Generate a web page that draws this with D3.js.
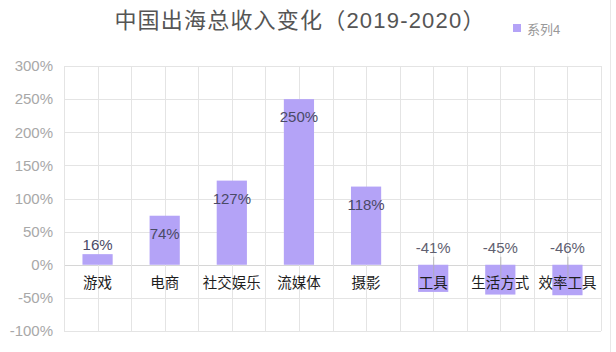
<!DOCTYPE html>
<html>
<head>
<meta charset="utf-8">
<script src="https://cdn.jsdelivr.net/npm/d3@7"></script>
<style>
  body { margin: 0; background: #fff; }
  text { font-family: "Liberation Sans", "Noto Sans CJK SC", sans-serif; }
</style>
</head>
<body>
<div id="display"></div>
<script>
let w = 616;
let h = 352;

const categories = ['游戏', '电商', '社交娱乐', '流媒体', '摄影', '工具', '生活方式', '效率工具'];
const values = [16, 74, 127, 250, 118, -41, -45, -46];
const yTicks = [-100, -50, 0, 50, 100, 150, 200, 250, 300];
const seriesName = '系列4';
const title = '中国出海总收入变化（2019-2020）';

const barColor = '#b4a3f7';

let viz = d3.select('#display')
            .append('svg')
                .attr('width', w)
                .attr('height', h)
                .style('background-color', '#fff');

let pLeft = 64, pRight = 601, pTop = 66, pBottom = 331;

let xScale = d3.scaleBand().domain(categories).range([pLeft, pRight]).paddingInner(0.55).paddingOuter(0.275);
let yScale = d3.scaleLinear().domain([-100, 300]).range([pBottom, pTop]);
let step = xScale.step();

// horizontal grid
viz.append('g')
    .selectAll('line')
    .data(yTicks)
    .join('line')
        .attr('x1', pLeft)
        .attr('x2', pRight)
        .attr('y1', (d) => Math.round(yScale(d)) + 0.5)
        .attr('y2', (d) => Math.round(yScale(d)) + 0.5)
        .attr('stroke', (d) => d === 0 ? '#d6d6d6' : '#e4e4e4')
        .attr('stroke-width', 1);

// vertical grid at band edges and centers
let vx = [];
categories.forEach((c, i) => {
    vx.push(pLeft + i * step);
    vx.push(pLeft + i * step + step / 2);
});
vx.push(pRight);
viz.append('g')
    .selectAll('line')
    .data(vx)
    .join('line')
        .attr('x1', (d) => Math.round(d) + 0.5)
        .attr('x2', (d) => Math.round(d) + 0.5)
        .attr('y1', pTop)
        .attr('y2', pBottom)
        .attr('stroke', '#e4e4e4');

// frame line on the right
viz.append('line')
    .attr('x1', 610.5).attr('x2', 610.5)
    .attr('y1', 0).attr('y2', h)
    .attr('stroke', '#e8e8e8');

// y axis labels
let yAxis = d3.axisLeft(yScale).tickValues(yTicks).tickSize(0).tickPadding(11).tickFormat((d) => d + '%');
viz.append('g')
    .attr('class', 'yaxis')
    .attr('transform', 'translate(' + pLeft + ',0)')
    .call(yAxis)
    .call((g) => g.select('.domain').remove())
    .selectAll('text')
        .attr('fill', '#a8a8a8')
        .style('font-size', '15px');

// bars
viz.append('g')
    .selectAll('rect')
    .data(values)
    .join('rect')
        .attr('x', (d, i) => xScale(categories[i]))
        .attr('width', xScale.bandwidth())
        .attr('y', (d) => yScale(Math.max(0, d)))
        .attr('height', (d) => Math.abs(yScale(d) - yScale(0)))
        .attr('fill', barColor);

// category labels on the zero line
viz.append('g')
    .selectAll('text')
    .data(categories)
    .join('text')
        .attr('x', (d) => xScale(d) + xScale.bandwidth() / 2)
        .attr('y', yScale(0) + 23)
        .attr('text-anchor', 'middle')
        .attr('fill', '#1e1e1e')
        .style('font-size', '14.5px')
        .text((d) => d);

// leader lines for negative values
viz.append('g')
    .selectAll('line')
    .data(values.filter((d) => d < 0))
    .join('line')
        .attr('x1', (d) => xScale(categories[values.indexOf(d)]) + xScale.bandwidth() / 2 + 0.5)
        .attr('x2', (d) => xScale(categories[values.indexOf(d)]) + xScale.bandwidth() / 2 + 0.5)
        .attr('y1', yScale(0) - 8)
        .attr('y2', (d) => yScale(d / 2))
        .attr('stroke', '#b0b0b0')
        .attr('stroke-width', 0.8);

// value labels
viz.append('g')
    .selectAll('text')
    .data(values)
    .join('text')
        .attr('x', (d, i) => xScale(categories[i]) + xScale.bandwidth() / 2)
        .attr('y', (d) => {
            if (d < 0) return yScale(0) - 12;
            if (d < 30) return yScale(d) - 4;
            return yScale(d) + 23;
        })
        .attr('text-anchor', 'middle')
        .attr('fill', (d) => d < 0 ? '#606070' : '#4a4a66')
        .style('font-size', '15px')
        .text((d) => d + '%');

// title
viz.append('text')
    .attr('x', 300)
    .attr('y', 28)
    .attr('text-anchor', 'middle')
    .attr('fill', '#555')
    .style('font-size', '22px')
    .style('letter-spacing', '1.2px')
    .text(title);

// legend
viz.append('rect')
    .attr('x', 513).attr('y', 24)
    .attr('width', 8).attr('height', 8)
    .attr('fill', barColor);
viz.append('text')
    .attr('x', 527).attr('y', 33.5)
    .attr('fill', '#999')
    .style('font-size', '13px')
    .text(seriesName);
</script>
</body>
</html>
